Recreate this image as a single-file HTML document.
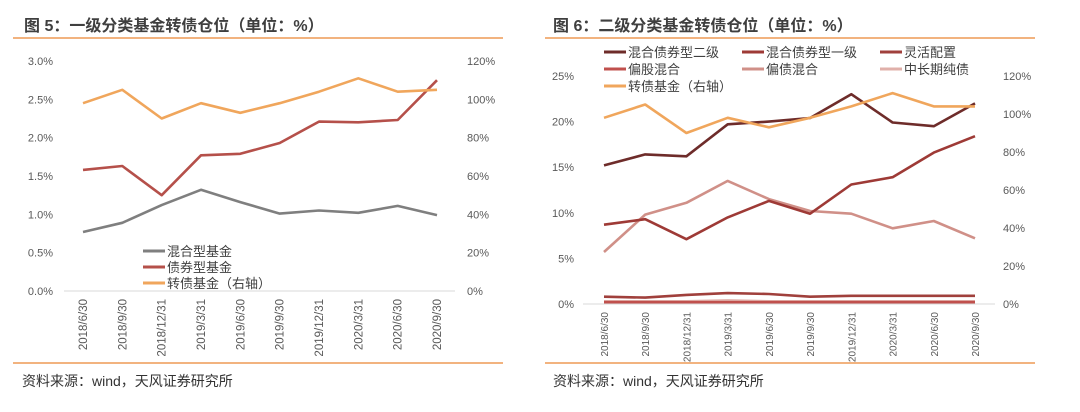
<!DOCTYPE html>
<html><head><meta charset="utf-8"><style>
body{margin:0;background:#fff;width:1080px;height:407px;overflow:hidden;font-family:"Liberation Sans","Noto Sans CJK SC",sans-serif;}
svg text{font-family:"Liberation Sans","Noto Sans CJK SC",sans-serif;}
</style></head><body>
<svg id="s" width="1080" height="407" xmlns="http://www.w3.org/2000/svg">
<text x="24" y="31" font-size="16" font-weight="bold" fill="#3f3f3f">图 5：一级分类基金转债仓位（单位：%）</text>
<line x1="13" y1="38" x2="503" y2="38" stroke="#ED9A55" stroke-width="1.5"/>
<text x="553" y="31" font-size="16" font-weight="bold" fill="#3f3f3f">图 6：二级分类基金转债仓位（单位：%）</text>
<line x1="545" y1="38" x2="1035" y2="38" stroke="#ED9A55" stroke-width="1.5"/>
<line x1="13" y1="363" x2="503" y2="363" stroke="#ED9A55" stroke-width="1.5"/>
<line x1="545" y1="363" x2="1035" y2="363" stroke="#ED9A55" stroke-width="1.5"/>
<text x="22" y="386" font-size="14" fill="#333">资料来源：wind，天风证券研究所</text>
<text x="553" y="386" font-size="14" fill="#333">资料来源：wind，天风证券研究所</text>
<g id="c1"></g><g id="c2"></g>
</svg>
<script>
const cats=["2018/6/30","2018/9/30","2018/12/31","2019/3/31","2019/6/30","2019/9/30","2019/12/31","2020/3/31","2020/6/30","2020/9/30"];
// chart 1
const c1Mixed=[0.77,0.89,1.12,1.32,1.16,1.01,1.05,1.02,1.11,0.99];
const c1Bond=[1.58,1.63,1.25,1.77,1.79,1.93,2.21,2.20,2.23,2.75];
const c1Cb=[98,105,90,98,93,98,104,111,104,105];
const c1LeftTicks=["0.0%","0.5%","1.0%","1.5%","2.0%","2.5%","3.0%"];
const c1RightTicks=["0%","20%","40%","60%","80%","100%","120%"];
const c1Names=["混合型基金","债券型基金","转债基金（右轴）"];
// chart 2
const c2Sec=[15.2,16.4,16.2,19.7,20.0,20.4,23.0,19.9,19.5,22.0];
const c2Pri=[8.7,9.3,7.1,9.5,11.3,9.9,13.1,13.9,16.6,18.4];
const c2Flex=[0.8,0.7,1.0,1.2,1.1,0.8,0.9,0.9,0.9,0.9];
const c2Equity=[0.2,0.2,0.2,0.2,0.2,0.2,0.2,0.2,0.2,0.2];
const c2BondMix=[5.7,9.8,11.1,13.5,11.5,10.2,9.9,8.3,9.1,7.2];
const c2Long=[0.3,0.3,0.3,0.4,0.3,0.3,0.3,0.3,0.3,0.3];
const c2Cb=[98,105,90,98,93,98,104,111,104,104];
const c2LeftTicks=["0%","5%","10%","15%","20%","25%"];
const c2RightTicks=["0%","20%","40%","60%","80%","100%","120%"];
const c2Names=["混合债券型二级","混合债券型一级","灵活配置","偏股混合","偏债混合","中长期纯债","转债基金（右轴）"];
const NS="http://www.w3.org/2000/svg";
function mk(p,t,a){const e=document.createElementNS(NS,t);for(const k in a)e.setAttribute(k,a[k]);p.appendChild(e);return e;}
function chart(g,o){
  const xs=i=>o.x0+i*(o.x1-o.x0)/(cats.length-1);
  const yl=v=>o.yb-(v/o.lmax)*(o.yb-o.yt);
  const yr=v=>o.yb-(v/o.rmax)*(o.yb-o.yt);
  const ax=mk(g,'line',{x1:o.ax0,x2:o.ax1,y1:o.yb,y2:o.yb,stroke:'#d9d9d9','stroke-width':1});
  
  o.lt.forEach((t,i)=>{const e=mk(g,'text',{x:o.llx,y:o.yb-i*(o.yb-o.yt)/(o.lt.length-1)+4,'font-size':11,fill:'#595959','text-anchor':'end'});e.textContent=t;
    });
  o.rt.forEach((t,i)=>{const e=mk(g,'text',{x:o.rlx,y:o.yb-i*(o.yb-o.yt)/(o.rt.length-1)+4,'font-size':11,fill:'#595959'});e.textContent=t;
    });
  cats.forEach((c,i)=>{const x=xs(i)+4,y=o.yb+8;const e=mk(g,'text',{x:x,y:y,'font-size':o.xf,fill:'#595959','text-anchor':'end',transform:`rotate(-90 ${x} ${y})`});e.textContent=c;
    });
  o.series.forEach(s=>{const f=s.right?yr:yl;const d=s.v.map((v,i)=>(i?'L':'M')+xs(i).toFixed(1)+' '+f(v).toFixed(1)).join(' ');
    const p=mk(g,'path',{d:d,fill:'none',stroke:s.c,'stroke-width':2.6,'stroke-linejoin':'round'});
    });
  o.legend.forEach((l,i)=>{const lg=mk(g,'g',{});
    mk(lg,'line',{x1:l.x,x2:l.x+22,y1:l.y,y2:l.y,stroke:l.c,'stroke-width':3});
    const t=mk(lg,'text',{x:l.x+24,y:l.y+5,'font-size':13,fill:'#404040'});t.textContent=l.t;});
}
const g1=document.getElementById('c1');
chart(g1,{x0:83,x1:437,ax0:64,ax1:455,yb:291,yt:61,lmax:3,rmax:120,lt:c1LeftTicks,rt:c1RightTicks,llx:53,rlx:467,xf:11.5,
 series:[{v:c1Mixed,c:'#7f7f7f',n:'mixed-fund-line'},{v:c1Bond,c:'#B5504A',n:'bond-fund-line'},{v:c1Cb,c:'#F0A65C',right:1,n:'cb-fund-line'}],
 legend:[{x:143,y:251,c:'#7f7f7f',t:c1Names[0]},{x:143,y:267,c:'#B5504A',t:c1Names[1]},{x:143,y:283,c:'#F0A65C',t:c1Names[2]}]});
const g2=document.getElementById('c2');
chart(g2,{x0:604,x1:975,ax0:583,ax1:995,yb:304,yt:76,lmax:25,rmax:120,lt:c2LeftTicks,rt:c2RightTicks,llx:574,rlx:1003,xf:10,
 series:[{v:c2Long,c:'#E0B0AA',n:'long-bond-line'},{v:c2Equity,c:'#C0504D',n:'equity-mix-line'},{v:c2Flex,c:'#A0403C',n:'flex-line'},
  {v:c2BondMix,c:'#D09088',n:'bond-mix-line'},{v:c2Pri,c:'#9E3A36',n:'primary-bond-line'},{v:c2Sec,c:'#6E2C2A',n:'secondary-bond-line'},{v:c2Cb,c:'#F0A65C',right:1,n:'cb-fund-line'}],
 legend:[{x:604,y:52,c:'#6E2C2A',t:c2Names[0]},{x:742,y:52,c:'#9E3A36',t:c2Names[1]},{x:880,y:52,c:'#A0403C',t:c2Names[2]},
  {x:604,y:69,c:'#C0504D',t:c2Names[3]},{x:742,y:69,c:'#D09088',t:c2Names[4]},{x:880,y:69,c:'#E0B0AA',t:c2Names[5]},{x:604,y:86,c:'#F0A65C',t:c2Names[6]}]});
</script>
</body></html>
